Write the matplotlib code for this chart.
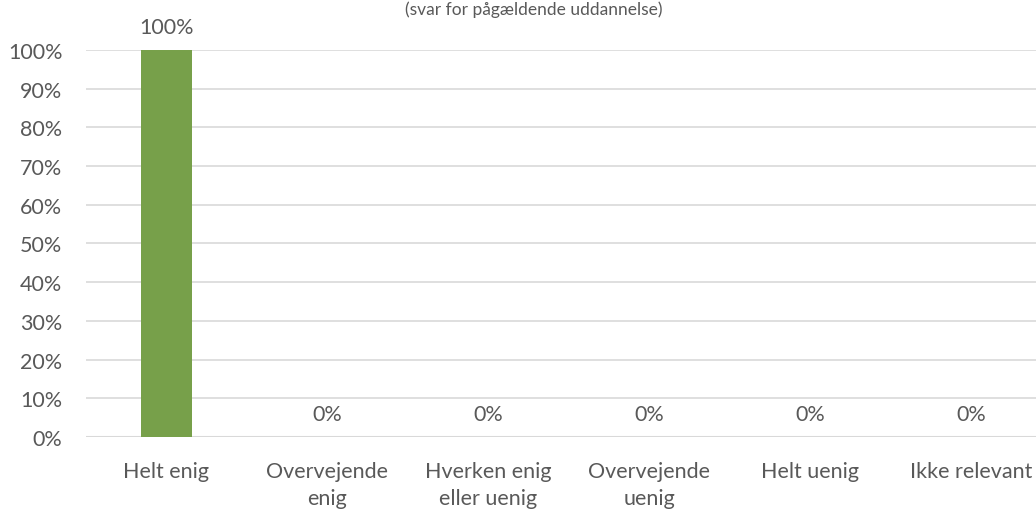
import matplotlib.pyplot as plt
import numpy as np
from matplotlib.ticker import FuncFormatter

plt.rcParams["font.family"] = ["Lato", "DejaVu Sans"]

kategorier = ["Helt enig", "Overvejende\nenig", "Hverken enig\neller uenig",
              "Overvejende\nuenig", "Helt uenig", "Ikke relevant"]
andele = [100, 0, 0, 0, 0, 0]
undertitel = "(svar for pågældende uddannelse)"

grøn = "#77A04A"
tekst = "#595959"
gitter = "#D9D9D9"

fig = plt.figure(figsize=(10.36, 5.10), dpi=100)
ax = fig.add_axes([0.083, 0.1412, 0.932, 0.7588])

x = np.arange(len(kategorier))
ax.bar(x, andele, width=0.317, color=grøn, zorder=3)
for xi, v in zip(x, andele):
    ax.annotate(f"{v}%", (xi, v), xytext=(0, 9), textcoords="offset points",
                ha="center", va="bottom", fontsize=15.5, color=tekst)

ax.set_xlim(-0.5, len(kategorier) - 0.5)
ax.set_ylim(0, 100)
ax.set_yticks(range(0, 101, 10))
ax.yaxis.set_major_formatter(FuncFormatter(lambda v, _: f"{v:.0f}%"))
ax.set_xticks(x)
ax.set_xticklabels(kategorier, linespacing=1.45)
ax.tick_params(axis="both", length=0, labelsize=15.5, labelcolor=tekst)
ax.tick_params(axis="x", pad=17)
ax.tick_params(axis="y", pad=17)
ax.grid(axis="y", color=gitter, lw=1.2, zorder=0)
for s in ax.spines.values():
    s.set_visible(False)
ax.axhline(0, color=gitter, lw=1.5, zorder=2)

fig.text(0.515, 0.98, undertitel, ha="center", va="center", fontsize=12.5, color=tekst)

fig.savefig("out.png", dpi=100)
